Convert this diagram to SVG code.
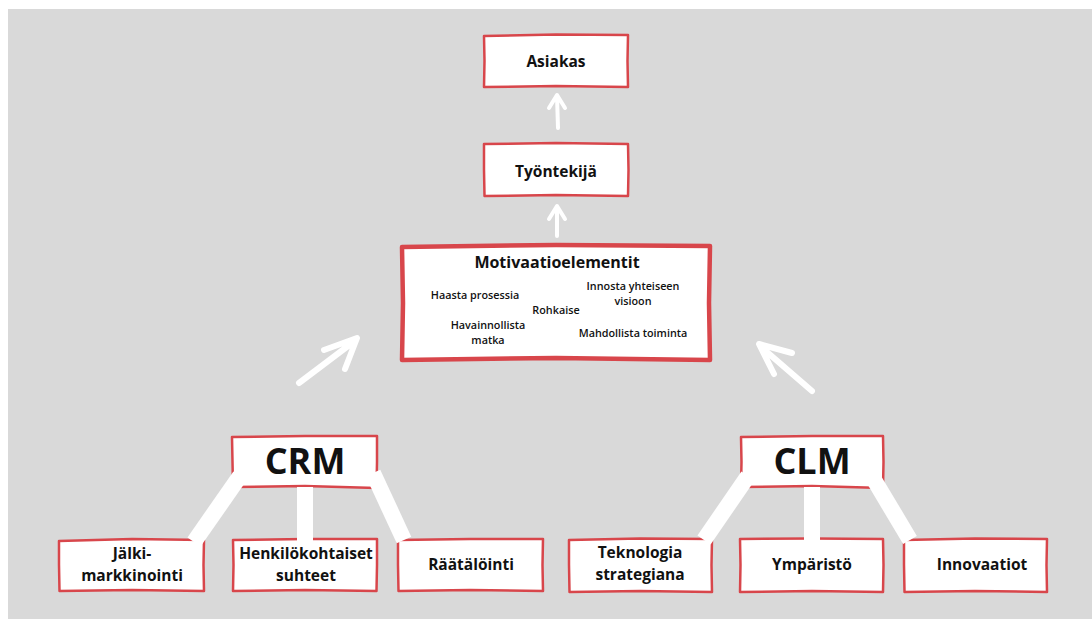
<svg xmlns="http://www.w3.org/2000/svg" width="1092" height="619" viewBox="0 0 1092 619">
<style>
.box{fill:#ffffff;stroke:#d8464b;stroke-width:2.5;stroke-linejoin:round}
.big{fill:#ffffff;stroke:#d8464b;stroke-width:4.5;stroke-linejoin:round}
.t{font-family:"Open Sans","Liberation Sans",sans-serif;font-weight:bold;fill:#111111;text-anchor:middle}
.m{font-size:15.5px}
.s{font-size:10.8px;font-weight:600}
.h{font-size:36px}
.band{stroke:#ffffff;stroke-width:16;fill:none;stroke-linecap:butt}
.arr{stroke:#ffffff;fill:none;stroke-linecap:round;stroke-linejoin:round}
</style>
<rect x="8" y="9" width="1084" height="610" fill="#d9d9d9"/>
<g id="asiakas">
<path class="box" d="M484 36 L556 34.5 L628 35 L627.5 61 L628 87 L556 86 L484 87 L484.5 61 Z"/>
<text class="t m" x="556" y="67">Asiakas</text>
</g>
<g id="tyontekija">
<path class="box" d="M484 144 L556 143 L628 144 L628.5 170 L628 196 L556 195 L484.5 196 L484 170 Z"/>
<text class="t m" x="556" y="177">Työntekijä</text>
</g>
<g id="motivaatio">
<path class="big" d="M402 247 L556 245 L710 246 L709 303 L710 360 L556 358 L402 360 L403 303 Z"/>
<text class="t" style="font-size:16px" x="557" y="268">Motivaatioelementit</text>
<text class="t s" x="475" y="299">Haasta prosessia</text>
<text class="t s" x="556" y="314">Rohkaise</text>
<text class="t s" x="633" y="290">Innosta yhteiseen</text>
<text class="t s" x="633" y="305">visioon</text>
<text class="t s" x="488" y="329">Havainnollista</text>
<text class="t s" x="488" y="344">matka</text>
<text class="t s" x="633" y="337">Mahdollista toiminta</text>
</g>
<g id="crm">
<path class="box" d="M232 437 L305 436 L377 436 L377 462 L376.5 488 L305 486 L233 487 L232.5 462 Z"/>
<text class="t h" x="305" y="474">CRM</text>
</g>
<g id="clm">
<path class="box" d="M741 437 L812 436 L883 436 L883.5 462 L883 488 L812 486 L741 487 L741.5 462 Z"/>
<text class="t h" x="812" y="474">CLM</text>
</g>
<g id="jalki">
<path class="box" d="M59 541 L132 539 L204 540 L203.5 565 L204 591 L132 590 L59.5 591 L59 565 Z"/>
<text class="t m" x="132" y="559">Jälki-</text>
<text class="t m" x="132" y="581">markkinointi</text>
</g>
<g id="henkilokohtaiset">
<path class="box" d="M233 540 L305 539 L377 539 L377 565 L376.5 591 L305 590 L233 591 L233.5 565 Z"/>
<text class="t m" x="306" y="559">Henkilökohtaiset</text>
<text class="t m" x="306" y="581">suhteet</text>
</g>
<g id="raatalointi">
<path class="box" d="M398 540 L470 539 L543 539 L542.5 565 L543 591 L470 590 L398.5 591 L398 565 Z"/>
<text class="t m" x="471" y="570">Räätälöinti</text>
</g>
<g id="teknologia">
<path class="box" d="M569 540 L640 538.5 L712 539 L711.5 565 L712 592 L640 591 L569.5 592 L569 565 Z"/>
<text class="t m" x="640" y="558">Teknologia</text>
<text class="t m" x="640" y="580">strategiana</text>
</g>
<g id="ymparisto">
<path class="box" d="M740 539 L812 538.5 L883 539 L883.5 565 L883 592 L812 591 L740 592 L740.5 565 Z"/>
<text class="t m" x="812" y="570">Ympäristö</text>
</g>
<g id="innovaatiot">
<path class="box" d="M904 540 L975 538.5 L1047 539 L1046.5 565 L1047 592 L975 591 L904.5 592 L904 565 Z"/>
<text class="t m" x="982" y="570">Innovaatiot</text>
</g>
<g id="connectors">
<path class="band" d="M240 476 L194 542"/>
<path class="band" d="M305 487 L305 541"/>
<path class="band" d="M373 473 L404 540"/>
<path class="band" d="M748 476 L704 540"/>
<path class="band" d="M812 487 L812 540"/>
<path class="band" d="M873 478 L910 540"/>
<path class="arr" stroke-width="4" d="M558 128 L557 96 M549 108 L557 95 L565 108"/>
<path class="arr" stroke-width="4" d="M557 236 L557 208 M549 219 L557 206 L565 219"/>
<path class="arr" stroke-width="6" d="M299 383 L356 340 M324 350 L357 338 L345 369"/>
<path class="arr" stroke-width="6" d="M812 391 L760 346 M792 353 L759 344 L774 374"/>
</g>
</svg>
